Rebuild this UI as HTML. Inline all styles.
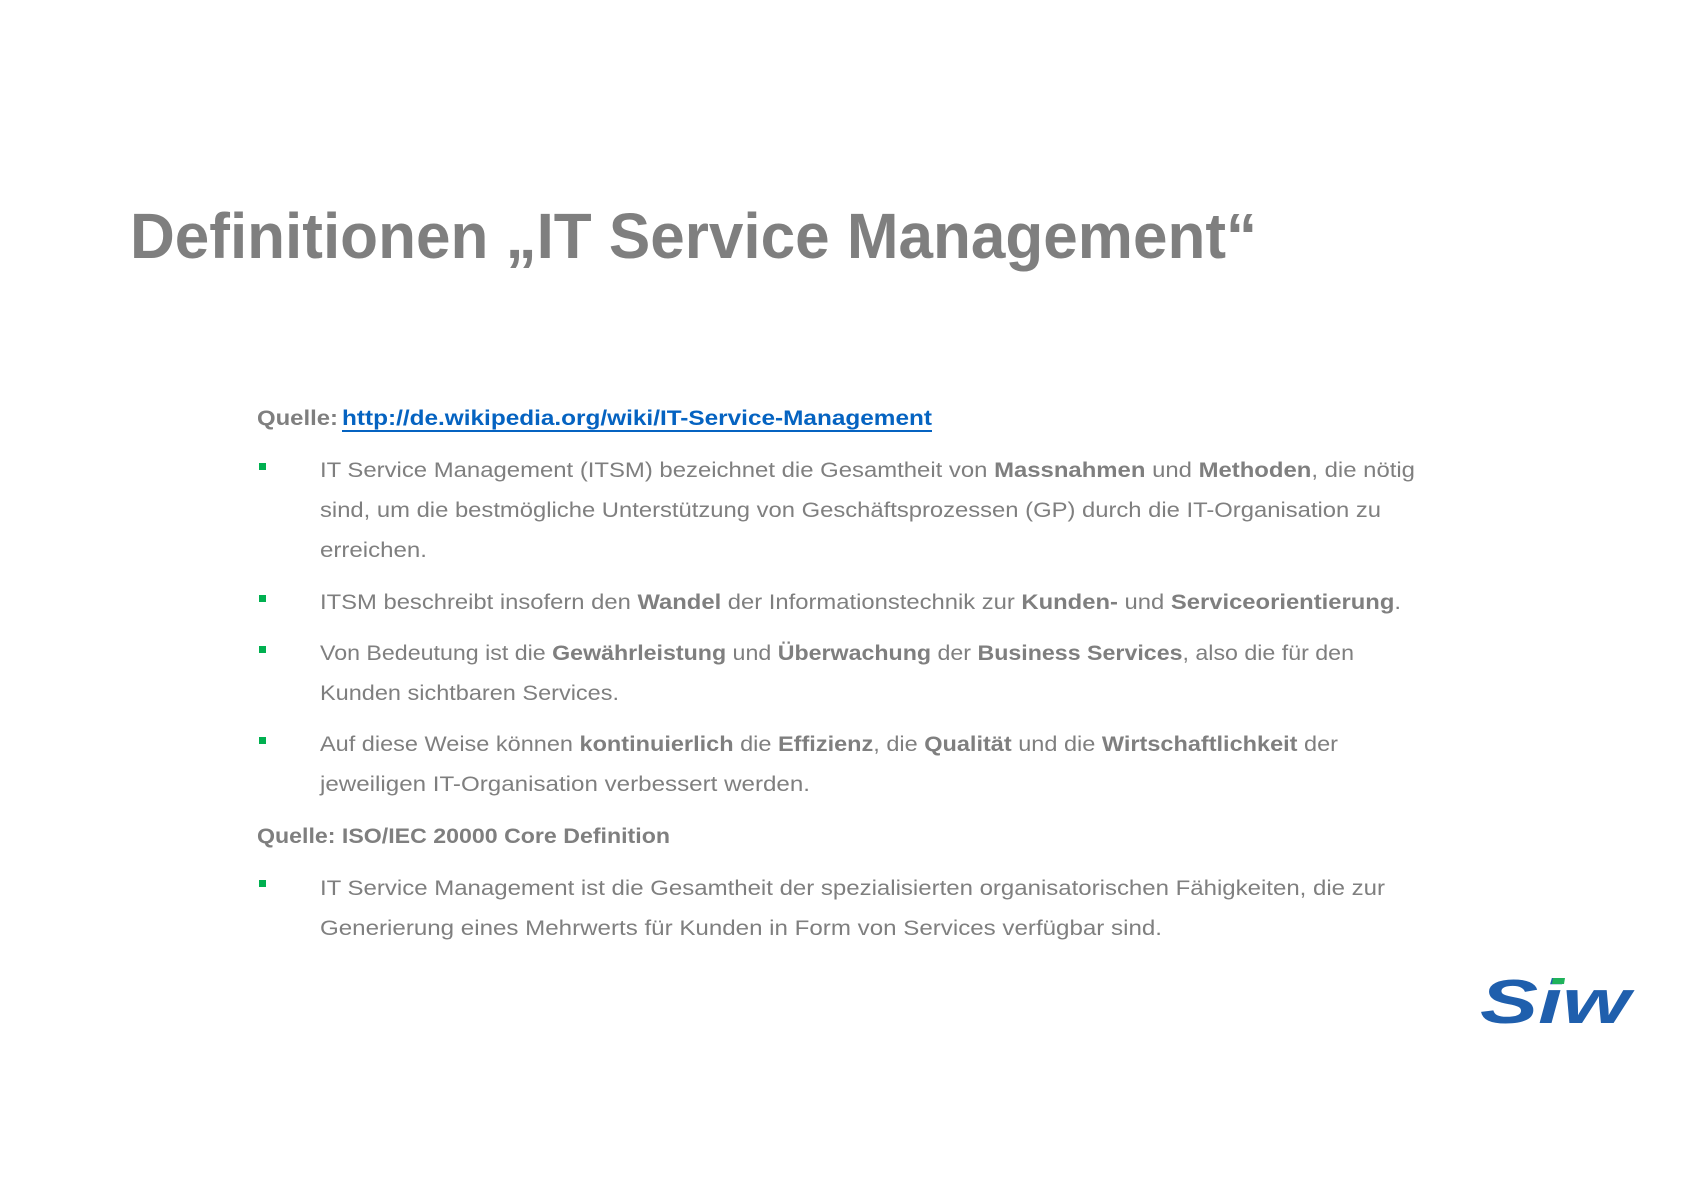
<!DOCTYPE html>
<html><head><meta charset="utf-8"><style>
html,body{margin:0;padding:0;background:#fff;}
svg{display:block;}
text{font-family:"Liberation Sans",sans-serif;}
</style></head><body>
<svg width="1683" height="1190" xmlns="http://www.w3.org/2000/svg">
<rect width="1683" height="1190" fill="#fff"/>
<text x="130" y="258" font-size="64" font-weight="bold" fill="#7f7f7f" textLength="1127" lengthAdjust="spacingAndGlyphs">Definitionen „IT Service Management“</text>

<g font-size="21" fill="#7f7f7f">
<text x="257" y="425" font-weight="bold" textLength="81" lengthAdjust="spacingAndGlyphs">Quelle:</text>
<text x="342" y="425" font-weight="bold" fill="#0563c1" textLength="590" lengthAdjust="spacingAndGlyphs">http://de.wikipedia.org/wiki/IT-Service-Management</text>
<rect x="342" y="430" width="590" height="2" fill="#0563c1"/>

<g fill="#00b050">
<rect x="259" y="463" width="7" height="7"/>
<rect x="259" y="595" width="7" height="7"/>
<rect x="259" y="646" width="7" height="7"/>
<rect x="259" y="737" width="7" height="7"/>
<rect x="259" y="880" width="7" height="7"/>
</g>

<text x="320" y="477" textLength="1095" lengthAdjust="spacingAndGlyphs">IT Service Management (ITSM) bezeichnet die Gesamtheit von <tspan font-weight="bold">Massnahmen</tspan> und <tspan font-weight="bold">Methoden</tspan>, die nötig</text>
<text x="320" y="517" textLength="1061" lengthAdjust="spacingAndGlyphs">sind, um die bestmögliche Unterstützung von Geschäftsprozessen (GP) durch die IT-Organisation zu</text>
<text x="320" y="557" textLength="107" lengthAdjust="spacingAndGlyphs">erreichen.</text>

<text x="320" y="609" textLength="1081" lengthAdjust="spacingAndGlyphs">ITSM beschreibt insofern den <tspan font-weight="bold">Wandel</tspan> der Informationstechnik zur <tspan font-weight="bold">Kunden-</tspan> und <tspan font-weight="bold">Serviceorientierung</tspan>.</text>

<text x="320" y="660" textLength="1034" lengthAdjust="spacingAndGlyphs">Von Bedeutung ist die <tspan font-weight="bold">Gewährleistung</tspan> und <tspan font-weight="bold">Überwachung</tspan> der <tspan font-weight="bold">Business Services</tspan>, also die für den</text>
<text x="320" y="700" textLength="299" lengthAdjust="spacingAndGlyphs">Kunden sichtbaren Services.</text>

<text x="320" y="751" textLength="1018" lengthAdjust="spacingAndGlyphs">Auf diese Weise können <tspan font-weight="bold">kontinuierlich</tspan> die <tspan font-weight="bold">Effizienz</tspan>, die <tspan font-weight="bold">Qualität</tspan> und die <tspan font-weight="bold">Wirtschaftlichkeit</tspan> der</text>
<text x="320" y="791" textLength="490" lengthAdjust="spacingAndGlyphs">jeweiligen IT-Organisation verbessert werden.</text>

<text x="257" y="843" font-weight="bold" textLength="413" lengthAdjust="spacingAndGlyphs">Quelle: ISO/IEC 20000 Core Definition</text>

<text x="320" y="895" textLength="1065" lengthAdjust="spacingAndGlyphs">IT Service Management ist die Gesamtheit der spezialisierten organisatorischen Fähigkeiten, die zur</text>
<text x="320" y="935" textLength="842" lengthAdjust="spacingAndGlyphs">Generierung eines Mehrwerts für Kunden in Form von Services verfügbar sind.</text>
</g>

<text x="1480" y="1023" font-size="62" font-weight="bold" font-style="italic" fill="#1f5fad" textLength="150" lengthAdjust="spacingAndGlyphs">Siw</text>
<polygon points="1553,978 1565,978 1564,984 1552,984" fill="#1fb25a"/>
</svg>
</body></html>
